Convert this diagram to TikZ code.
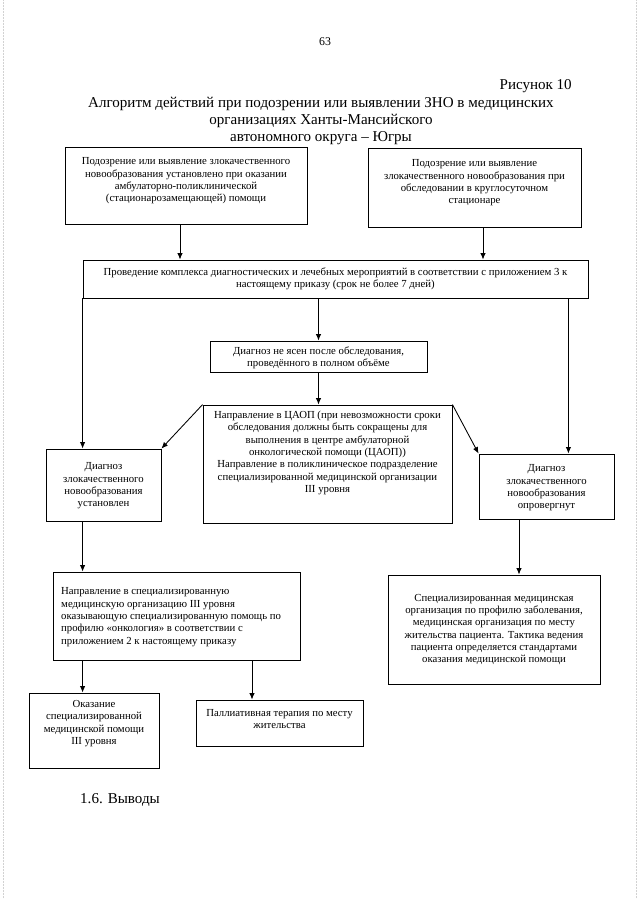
\documentclass[tikz,border=0pt]{standalone}
\usepackage{fontspec}
\setmainfont{Liberation Serif}
\usetikzlibrary{arrows.meta}
\newlength\pxu
\setlength\pxu{0.93pt}
\tikzset{
  box/.style={draw, line width=0.8pt, inner sep=0pt},
  boxtext/.style={font=\fontsize{10}{11.5}\selectfont, align=center, inner sep=0pt},
  pagetext/.style={font=\fontsize{14}{16}\selectfont, inner sep=0pt},
  link/.style={line width=0.8pt, -{Latex[length=6pt,width=5pt]}},
}

\begin{document}
\begin{tikzpicture}[x=0.93pt, y=-0.93pt]
  % Page
  \fill[white] (0,0) rectangle (640,899);
  \useasboundingbox (0,0) rectangle (640,899);
  \draw[gray!35, densely dotted] (3,0) -- (3,899);
  \draw[gray!35, densely dotted] (636,0) -- (636,899);
  % Heading
  \node[font=\fontsize{11}{13}\selectfont, inner sep=0pt] (pagenum) at (325,42) {63};
  \node[pagetext, anchor=east] (fignum) at (572,86) {Рисунок 10};
  \node[pagetext, align=center] (title) at (321,121)
    {Алгоритм действий при подозрении или выявлении ЗНО в медицинских\\
     организациях Ханты-Мансийского\\
     автономного округа – Югры};
  % Boxes
  \node[box, minimum width=242\pxu, minimum height=77\pxu] (A) at (186,185.5) {};
  \node[box, minimum width=213\pxu, minimum height=79\pxu] (B) at (474.5,187.5) {};
  \node[box, minimum width=505\pxu, minimum height=38\pxu] (C) at (335.5,279) {};
  \node[box, minimum width=115\pxu, minimum height=72\pxu] (D) at (103.5,485) {};
  \node[box, minimum width=217\pxu, minimum height=31\pxu] (E) at (318.5,356.5) {};
  \node[box, minimum width=249\pxu, minimum height=118\pxu] (F) at (327.5,464) {};
  \node[box, minimum width=135\pxu, minimum height=65\pxu] (G) at (546.5,486.5) {};
  \node[box, minimum width=247\pxu, minimum height=88\pxu] (H) at (176.5,616) {};
  \node[box, minimum width=212\pxu, minimum height=109\pxu] (I) at (494,629.5) {};
  \node[box, minimum width=130\pxu, minimum height=75\pxu] (J) at (94,730.5) {};
  \node[box, minimum width=167\pxu, minimum height=46\pxu] (K) at (279.5,723) {};
  % Box texts
  \node[boxtext] (Atext) at (186,181)
    {Подозрение или выявление злокачественного\\новообразования установлено при оказании\\амбулаторно-поликлинической\\(стационарозамещающей) помощи};
  \node[boxtext] (Btext) at (474.5,183)
    {Подозрение или выявление\\злокачественного новообразования при\\обследовании в круглосуточном\\стационаре};
  \node[boxtext] (Ctext) at (335.5,279)
    {Проведение комплекса диагностических и лечебных мероприятий в соответствии с приложением 3 к\\настоящему приказу (срок не более 7 дней)};
  \node[boxtext] (Dtext) at (103.5,486)
    {Диагноз\\злокачественного\\новообразования\\установлен};
  \node[boxtext] (Etext) at (318.5,358)
    {Диагноз не ясен после обследования,\\проведённого в полном объёме};
  \node[boxtext] (Ftext) at (327.5,453)
    {Направление в ЦАОП (при невозможности сроки\\обследования должны быть сокращены для\\выполнения в центре амбулаторной\\онкологической помощи (ЦАОП))\\Направление в поликлиническое подразделение\\специализированной медицинской организации\\III уровня};
  \node[boxtext] (Gtext) at (546.5,488)
    {Диагноз\\злокачественного\\новообразования\\опровергнут};
  \node[boxtext, align=left, anchor=west] (Htext) at (61,617)
    {Направление в специализированную\\медицинскую организацию III уровня\\оказывающую специализированную помощь по\\профилю «онкология» в соответствии с\\приложением 2 к настоящему приказу};
  \node[boxtext] (Itext) at (494,629.5)
    {Специализированная медицинская\\организация по профилю заболевания,\\медицинская организация по месту\\жительства пациента. Тактика ведения\\пациента определяется стандартами\\оказания медицинской помощи};
  \node[boxtext] (Jtext) at (94,723.5)
    {Оказание\\специализированной\\медицинской помощи\\III уровня};
  \node[boxtext] (Ktext) at (279.5,719)
    {Паллиативная терапия по месту\\жительства};
  % Arrows
  \draw[link] ([xshift=-6\pxu]A.south) -- ([xshift=-6\pxu]A.south |- C.north);
  \draw[link] ([xshift=8.5\pxu]B.south) -- ([xshift=8.5\pxu]B.south |- C.north);
  \draw[link] (C.south west) -- (C.south west |- D.north);
  \draw[link] (E.north |- C.south) -- (E.north);
  \draw[link] ([xshift=-20\pxu]C.south east) -- ([xshift=-20\pxu]C.south east |- G.north);
  \draw[link] (E.south) -- (E.south |- F.north);
  \draw[link] (F.north west) -- (D.north east);
  \draw[link] (F.north east) -- (G.north west);
  \draw[link] (C.south west |- D.south) -- (C.south west |- H.north);
  \draw[link] ([xshift=-27.5\pxu]G.south) -- ([xshift=-27.5\pxu]G.south |- I.north);
  \draw[link] (C.south west |- H.south) -- (C.south west |- J.north);
  \draw[link] ([xshift=-27.5\pxu]K.north |- H.south) -- ([xshift=-27.5\pxu]K.north);
  % Section
  \node[pagetext, anchor=west] (section) at (80,800) {1.6. Выводы};
\end{tikzpicture}
\end{document}
